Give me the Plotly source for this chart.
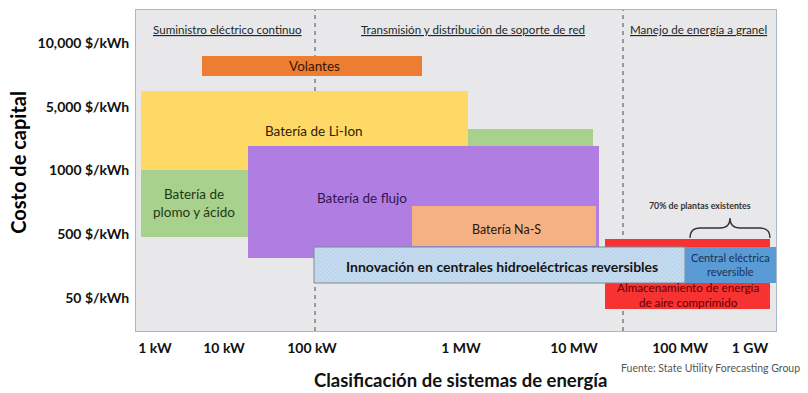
import plotly.graph_objects as go

# ---- data (x: position along the size scale, y: cost level 0=50 ... 4=10,000 $/kWh)
x_tick_pos = [19, 88, 176, 325, 438, 544, 614]
x_tick_text = ["1 kW", "10 kW", "100 kW", "1 MW", "10 MW", "100 MW", "1 GW"]
y_tick_pos = [0, 1, 2, 3, 4]
y_tick_text = ["50 $/kWh", "500 $/kWh", "1000 $/kWh", "5,000 $/kWh", "10,000 $/kWh"]

tech_names = ["Batería de plomo y ácido", "Batería de Li-Ion", "Volantes", "Batería de flujo",
              "Batería Na-S", "Almacenamiento de energía de aire comprimido",
              "Innovación en centrales hidroeléctricas reversibles", "Central eléctrica reversible"]
x_low = [5, 5, 66, 112, 276, 469, 178, 549]
x_high = [457, 332, 286, 463, 460, 634, 549, 640]
y_low = [0.957, 2.008, 3.482, 0.627, 0.816, -0.173, 0.235, 0.235]
y_high = [2.651, 3.247, 3.796, 2.384, 1.443, 0.925, 0.800, 0.800]

section_names = ["Suministro eléctrico continuo", "Transmisión y distribución de soporte de red",
                 "Manejo de energía a granel"]
section_bounds = [179, 487]

colors = ["#A9D18E", "#FFD966", "#ED7D31", "#B07DE2", "#F4B183", "#F73232", "#BDD7EE", "#5B9BD5"]
FONT = "Lato"

fig = go.Figure()
for i, name in enumerate(tech_names):
    marker = dict(color=colors[i], line=dict(width=0))
    if i == 6:
        marker = dict(color="#C6DCF0",
                      pattern=dict(shape="x", fgcolor="#9FBBD6", size=3, solidity=0.35),
                      line=dict(width=1, color="#7A8A99"))
    fig.add_trace(go.Bar(
        orientation="h", name=name,
        y=[(y_low[i] + y_high[i]) / 2], x=[x_high[i] - x_low[i]], base=[x_low[i]],
        width=[y_high[i] - y_low[i]], marker=marker, hoverinfo="skip", showlegend=False))

# box labels
labels = [
    (0, "Batería de<br>plomo y ácido", 58, 1.49, 13.5, "#223A12", False),
    (1, "Batería de Li-Ion", 178, 2.62, 13.5, "#2C2206", False),
    (2, "Volantes", 178, 3.64, 13.5, "#3A1604", False),
    (3, "Batería de flujo", 226, 1.57, 13.5, "#301452", False),
    (4, "Batería Na-S", 370, 1.07, 12.5, "#2E1408", False),
    (5, "Almacenamiento de energía<br>de aire comprimido", 552, 0.05, 11.7, "#660000", False),
    (6, "Innovación en centrales hidroeléctricas reversibles", 366, 0.49, 14, "#151515", True),
    (7, "Central eléctrica<br>reversible", 594, 0.52, 11, "#183158", False),
]
for _, txt, lx, ly, sz, col, bold in labels:
    fig.add_annotation(x=lx, y=ly, xref="x", yref="y", text=txt, showarrow=False,
                       font=dict(family=FONT, size=sz, color=col, weight="bold" if bold else "normal"))

# section dividers
for b in section_bounds:
    fig.add_shape(type="line", x0=b, x1=b, y0=0, y1=1, xref="x", yref="paper", layer="below",
                  line=dict(color="#6E6E6E", width=1.3, dash="4px,4px"))

# section headers
for txt, cx in zip(section_names, [91, 337, 562]):
    fig.add_annotation(x=cx, y=0.967, xref="x", yref="paper", text="<u>" + txt + "</u>",
                       showarrow=False, font=dict(family=FONT, size=11.6, color="#262626"))

# bracket for existing plants
fig.add_shape(type="path", xref="x", yref="y", layer="above",
              path="M 554,0.94 Q 554,1.098 564,1.098 L 584,1.098 Q 594,1.098 594,1.255 "
                   "Q 594,1.098 604,1.098 L 624,1.098 Q 634,1.098 634,0.94",
              line=dict(color="#333333", width=1.3))
fig.add_annotation(x=564, y=1.45, xref="x", yref="y", text="70% de plantas existentes",
                   showarrow=False, font=dict(family=FONT, size=8.8, color="#333333", weight="bold"))

# titles and source
fig.add_annotation(x=-0.184, y=0.525, xref="paper", yref="paper", text="Costo de capital",
                   textangle=-90, showarrow=False, xanchor="center", yanchor="middle",
                   font=dict(family=FONT, size=20, color="#000000", weight="bold"))
fig.add_annotation(x=0.507, y=-0.153, xref="paper", yref="paper",
                   text="Clasificación de sistemas de energía", showarrow=False,
                   xanchor="center", yanchor="middle",
                   font=dict(family=FONT, size=18.5, color="#111111", weight="bold"))
fig.add_annotation(x=1.04, y=-0.09, xref="paper", yref="paper",
                   text="Fuente: State Utility Forecasting Group", showarrow=False,
                   xanchor="right", yanchor="top",
                   font=dict(family=FONT, size=10.5, color="#555555"))

fig.update_layout(
    width=808, height=393, barmode="overlay",
    margin=dict(l=136, r=32, t=10, b=62),
    paper_bgcolor="white", plot_bgcolor="#E8E8EA",
    font=dict(family=FONT),
    xaxis=dict(range=[0, 640], tickvals=x_tick_pos, ticktext=x_tick_text, showgrid=False,
               zeroline=False, showline=True, linecolor="#A9B6C4", linewidth=1, mirror=True,
               ticks="", ticklabelstandoff=4,
               tickfont=dict(family=FONT, size=14, color="#111111", weight="bold")),
    yaxis=dict(range=[-0.518, 4.518], tickvals=y_tick_pos, ticktext=y_tick_text, showgrid=False,
               zeroline=False, showline=True, linecolor="#A9B6C4", linewidth=1, mirror=True,
               ticks="", ticklabelstandoff=3,
               tickfont=dict(family=FONT, size=14, color="#111111", weight="bold")),
)
fig.write_html("out.html", config={"displayModeBar": False},
               post_script="document.body.style.margin='0px';document.body.style.overflow='hidden';")
